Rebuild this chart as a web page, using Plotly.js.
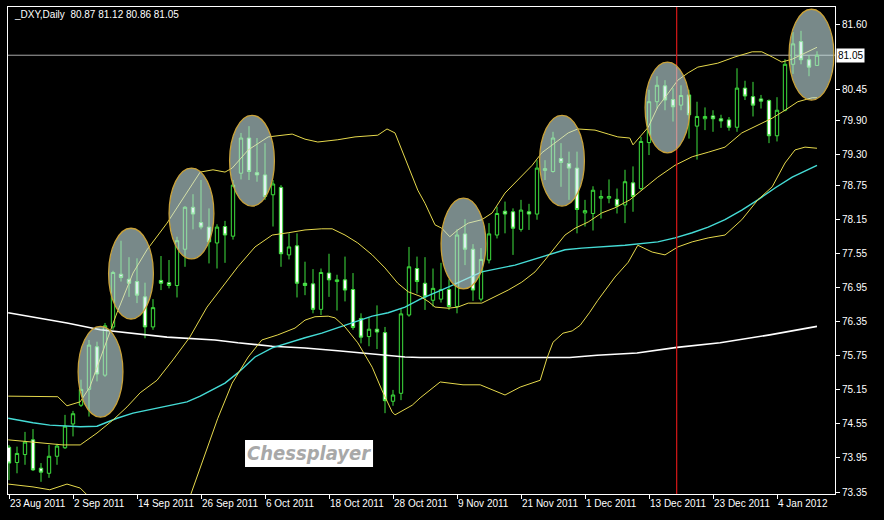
<!DOCTYPE html>
<html>
<head>
<meta charset="utf-8">
<script src="https://cdn.plot.ly/plotly-3.0.1.min.js"></script>
<style>
  html, body { margin: 0; padding: 0; background: #000; }
  #chart { width: 884px; height: 520px; }
</style>
</head>
<body>
<div id="chart"></div>
<script>
// ---------- DATA ----------
const dates = [
  "2011-08-23","2011-08-24","2011-08-25","2011-08-26","2011-08-29","2011-08-30","2011-08-31","2011-09-01",
  "2011-09-02","2011-09-05","2011-09-06","2011-09-07","2011-09-08","2011-09-09","2011-09-12","2011-09-13",
  "2011-09-14","2011-09-15","2011-09-16","2011-09-19","2011-09-20","2011-09-21","2011-09-22","2011-09-23",
  "2011-09-26","2011-09-27","2011-09-28","2011-09-29","2011-09-30","2011-10-03","2011-10-04","2011-10-05",
  "2011-10-06","2011-10-07","2011-10-10","2011-10-11","2011-10-12","2011-10-13","2011-10-14","2011-10-17",
  "2011-10-18","2011-10-19","2011-10-20","2011-10-21","2011-10-24","2011-10-25","2011-10-26","2011-10-27",
  "2011-10-28","2011-10-31","2011-11-01","2011-11-02","2011-11-03","2011-11-04","2011-11-07","2011-11-08",
  "2011-11-09","2011-11-10","2011-11-11","2011-11-14","2011-11-15","2011-11-16","2011-11-17","2011-11-18",
  "2011-11-21","2011-11-22","2011-11-23","2011-11-24","2011-11-25","2011-11-28","2011-11-29","2011-11-30",
  "2011-12-01","2011-12-02","2011-12-05","2011-12-06","2011-12-07","2011-12-08","2011-12-09","2011-12-12",
  "2011-12-13","2011-12-14","2011-12-15","2011-12-16","2011-12-19","2011-12-20","2011-12-21","2011-12-22",
  "2011-12-23","2011-12-26","2011-12-27","2011-12-28","2011-12-29","2011-12-30","2012-01-02","2012-01-03",
  "2012-01-04","2012-01-05","2012-01-06","2012-01-09","2012-01-10","2012-01-11"
];

const open = [
  74.14,73.87,74.01,74.27,73.77,73.68,73.98,74.13, 74.55,74.88,75.16,75.91,75.41,76.26,77.19,77.10,
  77.06,76.79,76.26,77.08,77.04,76.99,77.63,78.37, 78.10,78.02,77.74,78.03,77.86,78.97,79.59,78.98,
  78.94,78.59,78.72,77.53,77.69,77.03,77.02,76.57, 77.21,77.06,77.09,76.92,76.41,76.09,76.22,76.16,
  74.95,75.09,76.47,77.29,77.03,76.73,76.75,76.92, 76.62,77.90,77.63,76.75,77.44,77.88,78.30,78.29,
  77.98,78.29,78.25,79.02,79.00,79.23,79.14,79.06, 78.27,78.26,78.53,78.53,78.51,78.41,78.80,78.70,
  79.51,80.23,80.51,80.27,80.17,80.35,79.80,79.93, 79.98,79.93,79.91,79.78,80.47,80.32,80.28,80.25,
  79.63,80.08,80.89,81.29,80.97,80.87
];
const high = [
  74.18,74.15,74.41,74.46,73.86,74.18,74.20,74.71, 74.78,75.33,76.03,76.00,76.33,77.25,77.78,77.49,
  77.47,77.04,76.75,77.51,77.44,77.85,78.39,78.60, 78.85,78.35,78.07,78.13,78.85,79.68,79.80,79.59,
  79.50,78.85,78.76,77.91,77.91,77.41,77.28,77.29, 77.55,77.18,77.50,77.21,76.50,76.43,76.64,76.26,
  75.15,76.59,77.67,77.50,77.49,77.29,77.39,77.10, 77.98,78.16,77.72,77.65,78.09,78.38,78.47,78.35,
  78.50,78.43,79.20,79.20,79.70,79.50,79.35,79.35, 78.50,78.74,78.67,78.86,78.70,79.03,79.09,79.61,
  80.44,80.68,80.61,80.47,80.52,80.44,80.23,80.13, 80.08,80.00,79.96,80.82,80.60,80.58,80.35,80.27,
  80.31,80.98,81.46,81.48,81.05,81.12
];
const low = [
  73.56,73.68,73.83,73.72,73.53,73.60,73.83,74.11, 74.33,74.85,74.68,75.30,75.38,76.21,77.06,76.79,
  76.68,76.06,76.21,76.91,76.94,76.78,77.32,77.98, 77.98,77.38,77.29,77.39,77.80,78.86,78.85,78.82,
  78.50,78.03,77.32,77.45,76.78,76.82,76.50,76.47, 76.79,76.55,76.71,76.21,75.97,75.92,75.87,74.74,
  74.87,74.97,76.44,76.85,76.56,76.62,76.69,76.56, 76.50,77.35,76.72,76.71,77.38,77.82,77.91,77.53,
  77.94,77.97,78.15,78.85,78.98,78.73,78.50,77.91, 78.03,77.96,78.17,78.44,78.26,78.09,78.29,78.67,
  79.29,80.11,80.08,79.88,80.08,79.58,79.21,79.73, 79.70,79.77,79.72,79.70,80.26,79.97,80.11,79.50,
  79.53,80.06,80.72,80.89,80.68,80.86
];
const close = [
  73.86,74.03,74.23,73.74,73.70,73.98,74.16,74.51, 74.73,75.16,75.94,75.43,76.28,77.22,77.13,77.03,
  76.82,76.26,76.60,77.03,76.99,77.78,78.37,78.25, 78.02,77.76,78.02,77.88,78.76,79.59,79.00,78.94,
  78.56,78.78,77.55,77.67,77.03,76.99,76.57,77.22, 77.09,77.09,76.91,76.25,76.08,76.22,76.17,74.96,
  75.06,76.49,77.32,77.06,76.79,76.94,76.92,76.62, 77.88,77.63,76.91,77.45,77.90,78.26,78.25,78.00,
  78.32,78.25,79.06,79.05,79.59,79.16,79.06,78.33, 78.31,78.67,78.56,78.56,78.39,78.82,78.56,79.53,
  80.23,80.52,80.26,80.14,80.34,80.00,79.97,79.97, 79.93,79.89,79.78,80.47,80.33,80.17,80.24,79.63,
  80.08,80.89,81.25,80.97,80.84,81.05
];

// Bollinger Bands (20) – upper / middle / lower, sampled along the chart
const bbUpperX = [-0.1,6.1,7.25,8.9,10.1,12.6,13.5,15.5,17.25,19.75,22.25,23.9,25.5,27,27.9,29.9,32.4,35.4,37,38.6,41.1,43.25,46.1,47.25,48.25,49.5,51.1,52,53.25,54.1,55.1,56.1,57.4,59.1,60.4,62,63.6,65.4,66.6,68.25,69.9,71.1,73.25,74.9,76.1,77.6,78,79.9,81.1,82.4,83.6,84.9,86.1,88.6,90.75,92.9,94.1,95.4,96.6,97.9,98.9,101];
const bbUpperY = [75.04,75.03,74.87,74.94,75.20,76.15,76.51,77.21,77.62,78.09,78.62,78.99,79.03,78.99,79.06,79.38,79.61,79.66,79.57,79.52,79.56,79.61,79.64,79.75,79.68,79.24,78.67,78.44,78.06,78.00,77.85,77.97,78.09,78.15,78.27,78.62,78.85,79.11,79.33,79.50,79.68,79.75,79.73,79.66,79.61,79.59,79.47,79.78,80.14,80.38,80.61,80.74,80.84,80.91,81.02,81.11,81.11,81.02,80.93,80.98,81.05,81.19];

const bbMidX = [-0.1,6.75,8.9,11,13,14.75,16.4,18.5,20.5,22.6,24.75,26.6,28.6,30.75,32.9,34.9,37,39.1,40.4,42,43.6,45.4,47,48.6,49.9,51.4,52.5,53.25,54.9,56.1,57.4,59.1,60.75,62.4,64.1,65.75,67,68.25,69.5,70.75,72.4,74.1,75.75,77.6,79.1,81.1,83.25,85.4,87.4,89.5,91.6,93.6,95.4,97,98.6,100.4,101];
const bbMidY = [74.27,74.18,74.18,74.39,74.62,74.85,75.10,75.32,75.68,76.08,76.61,76.96,77.32,77.67,77.88,77.92,77.97,77.99,77.99,77.88,77.74,77.53,77.30,77.03,76.88,76.80,76.70,76.61,76.59,76.61,76.68,76.68,76.79,76.91,77.05,77.23,77.44,77.67,77.88,78.00,78.11,78.27,78.36,78.50,78.67,78.90,79.11,79.26,79.34,79.43,79.68,79.82,79.94,80.08,80.23,80.30,80.30];

const bbLowerX = [-0.1,3,5.1,7.25,8.9,9.75,11,18,22.6,26.1,27.9,29.9,31.6,33.6,35.75,37,38.25,39.9,40.75,42,43.6,45.4,46.6,47.9,48.25,50.4,51.4,53.9,56.75,58.9,62,63.9,66.4,67.25,68,69.25,70.4,71.4,72.6,73.6,75.75,77.4,78.6,80.4,82,83.6,85.4,87.4,89.5,91.6,93.6,95.4,97,98.25,99.5,101];
const bbLowerY = [73.49,73.44,73.39,73.49,73.42,73.30,72.9,72.8,73.26,74.65,75.27,75.73,76.03,76.12,76.24,76.38,76.44,76.45,76.42,76.26,75.98,75.55,75.15,74.76,74.71,74.88,75.01,75.29,75.24,75.24,75.06,75.20,75.32,75.71,75.99,76.15,76.19,76.29,76.52,76.73,77.14,77.40,77.70,77.58,77.53,77.67,77.76,77.83,77.88,78.15,78.50,78.73,79.15,79.38,79.43,79.41];

// Moving averages
const maCyanX = [-0.1,3,5.1,8.9,11,13.5,15.5,17.6,19.75,22.25,23.9,25.75,27,28.6,30.75,32.9,34.9,37,39.1,41.1,43.25,45.4,47.4,49.5,51.4,54.9,59.1,63.25,67.4,69.5,71.6,75.75,77,81.1,83.25,85.4,87.4,89.5,91.6,93.6,95.75,97.9,101];
const maCyanY = [74.65,74.57,74.53,74.50,74.51,74.65,74.74,74.80,74.87,74.94,75.04,75.18,75.27,75.45,75.73,75.89,75.98,76.07,76.15,76.24,76.35,76.45,76.51,76.61,76.75,76.96,77.23,77.35,77.53,77.62,77.65,77.69,77.70,77.76,77.83,77.92,78.02,78.15,78.32,78.50,78.71,78.90,79.11];

const maWhiteX = [-0.1,7.25,11.4,15.5,19.75,25.75,28.6,32.9,37,41.1,45.4,49.5,51.4,70.1,73.5,78.5,83.5,88.9,95.1,101];
const maWhiteY = [76.51,76.33,76.21,76.15,76.08,76.03,75.98,75.92,75.89,75.84,75.78,75.73,75.72,75.72,75.76,75.80,75.90,75.98,76.12,76.27];

// Axis ticks
const xTickIdx = [0,8,16,24,32,40,48,56,64,72,80,88,96];
const xTickText = ["23 Aug 2011","2 Sep 2011","14 Sep 2011","26 Sep 2011","6 Oct 2011","18 Oct 2011","28 Oct 2011","9 Nov 2011","21 Nov 2011","1 Dec 2011","13 Dec 2011","23 Dec 2011","4 Jan 2012"];
const yTickVals = [81.60,80.45,79.90,79.30,78.75,78.15,77.55,76.95,76.35,75.75,75.15,74.55,73.95,73.35];

const symbolTitle = "_DXY,Daily";
const lastPrice = 81.05;

// Highlight ellipses (bar index centre, price centre)
const ellipseIdx   = [11.44, 15.25, 22.81, 30.375, 56.81, 69.125, 82.31, 100.31];
const ellipsePrice = [75.47, 77.20, 78.26, 79.19, 77.73, 79.19, 80.13, 81.06];
const markerIdx = 83.46; // red vertical marker line

// ---------- CHART ----------
const barIdx = dates.map((d, i) => i);
const green = '#3ee03e';
const yellow = '#e6d94c';
const font = 'Liberation Sans, Arial, sans-serif';

const traces = [
  {type:'scatter', mode:'lines', x: maWhiteX, y: maWhiteY, line:{color:'#ffffff', width:1.6}, hoverinfo:'skip'},
  {type:'scatter', mode:'lines', x: maCyanX, y: maCyanY, line:{color:'#45dcd6', width:1.4}, hoverinfo:'skip'},
  {type:'scatter', mode:'lines', x: bbUpperX, y: bbUpperY, line:{color:yellow, width:1}, hoverinfo:'skip'},
  {type:'scatter', mode:'lines', x: bbMidX, y: bbMidY, line:{color:yellow, width:1}, hoverinfo:'skip'},
  {type:'scatter', mode:'lines', x: bbLowerX, y: bbLowerY, line:{color:yellow, width:1}, hoverinfo:'skip'},
  {
    type:'candlestick', x: barIdx, open: open, high: high, low: low, close: close,
    increasing:{line:{color:green, width:1}, fillcolor:'#000000'},
    decreasing:{line:{color:green, width:1}, fillcolor:'#ffffff'},
    whiskerwidth: 0, hoverinfo:'skip'
  }
];

const shapes = [
  // current price line
  {type:'line', xref:'paper', x0:0, x1:1, yref:'y', y0:lastPrice, y1:lastPrice,
   line:{color:'#a8a8a8', width:1}, layer:'below'},
  // red vertical marker
  {type:'line', xref:'x', x0:markerIdx, x1:markerIdx, yref:'paper', y0:0, y1:1,
   line:{color:'#d81818', width:1.2}, layer:'above'}
];
ellipseIdx.forEach((cx, k) => {
  const cy = ellipsePrice[k];
  shapes.push({type:'circle', xref:'x', yref:'y',
    x0: cx - 2.8, x1: cx + 2.8, y0: cy - 0.80, y1: cy + 0.80,
    fillcolor:'rgba(200,228,228,0.6)', line:{color:'#c9a23a', width:1.3}, layer:'above'});
});
// watermark box
shapes.push({type:'rect', xref:'paper', yref:'paper', x0:0.2866, x1:0.4414, y0:0.0554, y1:0.1109,
  fillcolor:'#ffffff', line:{width:0}, layer:'above'});

const annotations = [
  {xref:'paper', yref:'paper', x:0, y:0.9836, xshift:4, xanchor:'left', yanchor:'middle',
   text: symbolTitle + '\u00a0 ' + [open[open.length-1], high[high.length-1], low[low.length-1], close[close.length-1]].map(v => v.toFixed(2)).join(' '),
   showarrow:false, font:{family:font, size:10, color:'#ffffff'}},
  {xref:'paper', yref:'y', x:1, y:lastPrice, xanchor:'left', yanchor:'middle', xshift:1,
   text: lastPrice.toFixed(2), showarrow:false, bgcolor:'#ffffff', borderpad:1,
   font:{family:font, size:10, color:'#000000'}},
  {xref:'paper', yref:'paper', x:0.364, y:0.0832, xanchor:'center', yanchor:'middle',
   text:'<b><i>Chessplayer</i></b>', showarrow:false,
   font:{family:'Liberation Sans Narrow, DejaVu Sans Condensed, Liberation Sans, sans-serif', size:20, color:'#a8a8a8'}}
];

const layout = {
  width: 884, height: 520,
  margin: {l:8, r:49, t:7, b:26, pad:0},
  paper_bgcolor:'#000000', plot_bgcolor:'#000000',
  showlegend:false,
  boxgap: 0.4,
  hovermode:false,
  xaxis: {
    range:[-0.125, 103.25], showgrid:false, zeroline:false,
    showline:true, linecolor:'#ffffff', linewidth:1, mirror:true,
    ticks:'outside', ticklen:4, tickcolor:'#ffffff',
    tickvals: xTickIdx, ticktext: xTickText, ticklabelposition:'outside right',
    tickangle: 0, automargin:false,
    tickfont:{family:font, size:10, color:'#ffffff'},
    rangeslider:{visible:false}, fixedrange:true
  },
  yaxis: {
    side:'right', range:[73.315, 81.90], showgrid:false, zeroline:false,
    showline:true, linecolor:'#ffffff', linewidth:1, mirror:true,
    ticks:'outside', ticklen:4, tickcolor:'#ffffff',
    tickvals: yTickVals, ticktext: yTickVals.map(v => v.toFixed(2)),
    tickfont:{family:font, size:10, color:'#ffffff'}, fixedrange:true
  },
  shapes: shapes,
  annotations: annotations
};

Plotly.newPlot('chart', traces, layout, {staticPlot:true, displayModeBar:false});
</script>
</body>
</html>
